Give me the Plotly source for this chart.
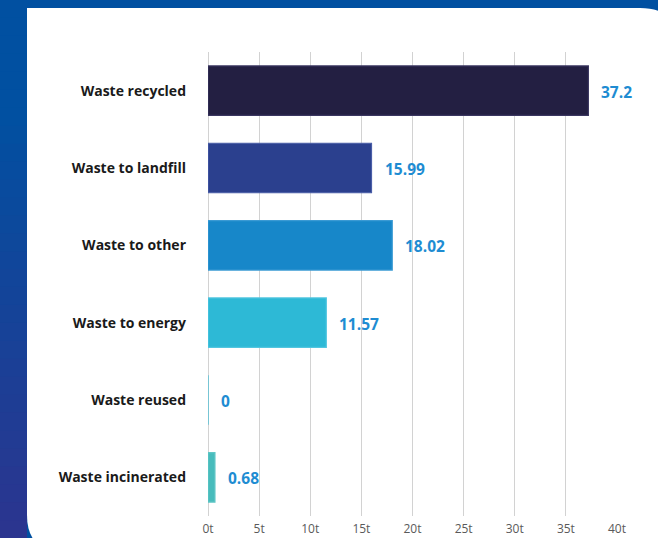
import plotly.graph_objects as go

categories = ["Waste recycled", "Waste to landfill", "Waste to other",
              "Waste to energy", "Waste reused", "Waste incinerated"]
values = [37.2, 15.99, 18.02, 11.57, 0, 0.68]
value_labels = ["37.2", "15.99", "18.02", "11.57", "0", "0.68"]
bar_colors = ["#231f42", "#2b408e", "#1787c9", "#2db9d6", "#3bbcd6", "#48bcbc"]
edge_colors = ["#3a3660", "#4a5ea8", "#3a9ad4", "#52c6e0", "#3bbcd6", "#60c6c6"]
tick_vals = [0, 5, 10, 15, 20, 25, 30, 35, 40]
tick_text = [f"{v}t" for v in tick_vals]

W, H = 658, 538
# plot area in pixels
PL, PR, PT, PB = 208, 617, 52, 516


def px(x):
    return (x - PL) / (PR - PL)


def py(y):
    return (PB - y) / (PB - PT)


fig = go.Figure(go.Bar(
    x=values, y=categories, orientation="h",
    marker=dict(color=bar_colors, line=dict(color=edge_colors, width=1.2)),
    width=0.64, showlegend=False, hoverinfo="x+y",
))

# value labels to the right of each bar
for cat, val, lab in zip(categories, values, value_labels):
    fig.add_annotation(x=val, y=cat, text=f"<b>{lab}</b>", showarrow=False,
                       xanchor="left", xshift=11, yshift=-1,
                       font=dict(family="Open Sans", size=15.5, color="#1e8cd2"))

shapes = []
# left strip gradient (blue -> indigo)
top_c, bot_c = (0x01, 0x50, 0xa1), (0x2b, 0x35, 0x8f)
n = 30
for i in range(n):
    y0 = H * i / n
    y1 = H * (i + 1) / n + 1
    t = max(0.0, (i / (n - 1) - 0.2) / 0.8)
    c = tuple(round(a + (b - a) * t) for a, b in zip(top_c, bot_c))
    shapes.append(dict(type="rect", xref="paper", yref="paper", layer="below",
                       x0=px(-2), x1=px(27), y0=py(y0), y1=py(y1),
                       fillcolor="rgb(%d,%d,%d)" % c, line=dict(width=0)))

# white card with rounded top-right and bottom-left corners
L, T, R, B = 27, 8, 680, 552
r1, r2 = 40, 37
path = (f"M {px(L)},{py(T)} L {px(R - r1)},{py(T)} "
        f"Q {px(R)},{py(T)} {px(R)},{py(T + r1)} "
        f"L {px(R)},{py(B)} L {px(L + r2)},{py(B)} "
        f"Q {px(L)},{py(B)} {px(L)},{py(B - r2)} Z")
shapes.append(dict(type="path", xref="paper", yref="paper", layer="below",
                   path=path, fillcolor="white", line=dict(width=0)))

fig.update_layout(
    width=W, height=H,
    margin=dict(l=PL, r=W - PR, t=PT, b=H - PB, autoexpand=False),
    paper_bgcolor="#0150a1", plot_bgcolor="rgba(0,0,0,0)",
    shapes=shapes, bargap=0.36,
    font=dict(family="Open Sans", color="#1a1a1a"),
    xaxis=dict(range=[0, 40], tickvals=tick_vals, ticktext=tick_text,
               showgrid=True, gridcolor="#d2d2d2", gridwidth=1.3,
               zeroline=True, zerolinecolor="#d2d2d2", zerolinewidth=1.3,
               showline=False, ticks="", ticklabelstandoff=4,
               tickfont=dict(family="Open Sans", size=12, color="#5a5a5a"),
               fixedrange=True),
    yaxis=dict(categoryorder="array", categoryarray=categories,
               range=[5.5, -0.5], showgrid=False, zeroline=False, showline=False,
               ticks="", ticklabelstandoff=21,
               tickfont=dict(family="Open Sans", size=14, color="#1a1a1a", weight="bold"),
               fixedrange=True),
)

fig.write_html("out.html", config={"displayModeBar": False},
               post_script="document.body.style.margin='0';")
